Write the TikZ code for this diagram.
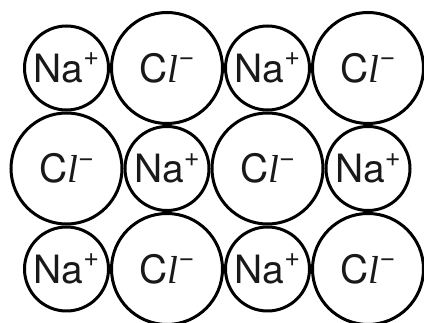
\documentclass[tikz,border=0pt]{standalone}
\usepackage{fontspec}
\setsansfont{TeX Gyre Heros}
\newfontfamily\elfont{Liberation Serif}
\usetikzlibrary{positioning}
\newcommand{\ionsup}[1]{\raisebox{0.42em}{\fontsize{27}{27}\selectfont #1}}
\newcommand{\Naion}{Na\ionsup{+}}
\newcommand{\Clion}{C{\elfont\itshape l}\ionsup{−}}
\begin{document}
\begin{tikzpicture}[
  font=\sffamily\fontsize{39}{40}\selectfont,
  ion/.style={circle, draw=black, line width=3pt, inner sep=0pt, text=black!90},
  na/.style={ion, minimum size=84pt},
  cl/.style={ion, minimum size=111pt},
]
\useasboundingbox (0,0) rectangle (424pt,-323pt);
\clip (0,0) rectangle (424pt,-323pt);

% --- Fila 1 ---
\node[na] (na11) at (66.5pt,-68pt) {\Naion};
\node[cl, right=0pt of na11] (cl12) {\Clion};
\node[na, right=0pt of cl12] (na13) {\Naion};
\node[cl, right=0pt of na13] (cl14) {\Clion};

% --- Fila 2 ---
\node[cl, below=0pt of na11] (cl21) {\Clion};
\node[na, right=0pt of cl21] (na22) {\Naion};
\node[cl, right=0pt of na22] (cl23) {\Clion};
\node[na, right=0pt of cl23] (na24) {\Naion};

% --- Fila 3 ---
\node[na, below=0pt of cl21] (na31) {\Naion};
\node[cl, right=0pt of na31] (cl32) {\Clion};
\node[na, right=0pt of cl32] (na33) {\Naion};
\node[cl, right=0pt of na33] (cl34) {\Clion};

\end{tikzpicture}
\end{document}
